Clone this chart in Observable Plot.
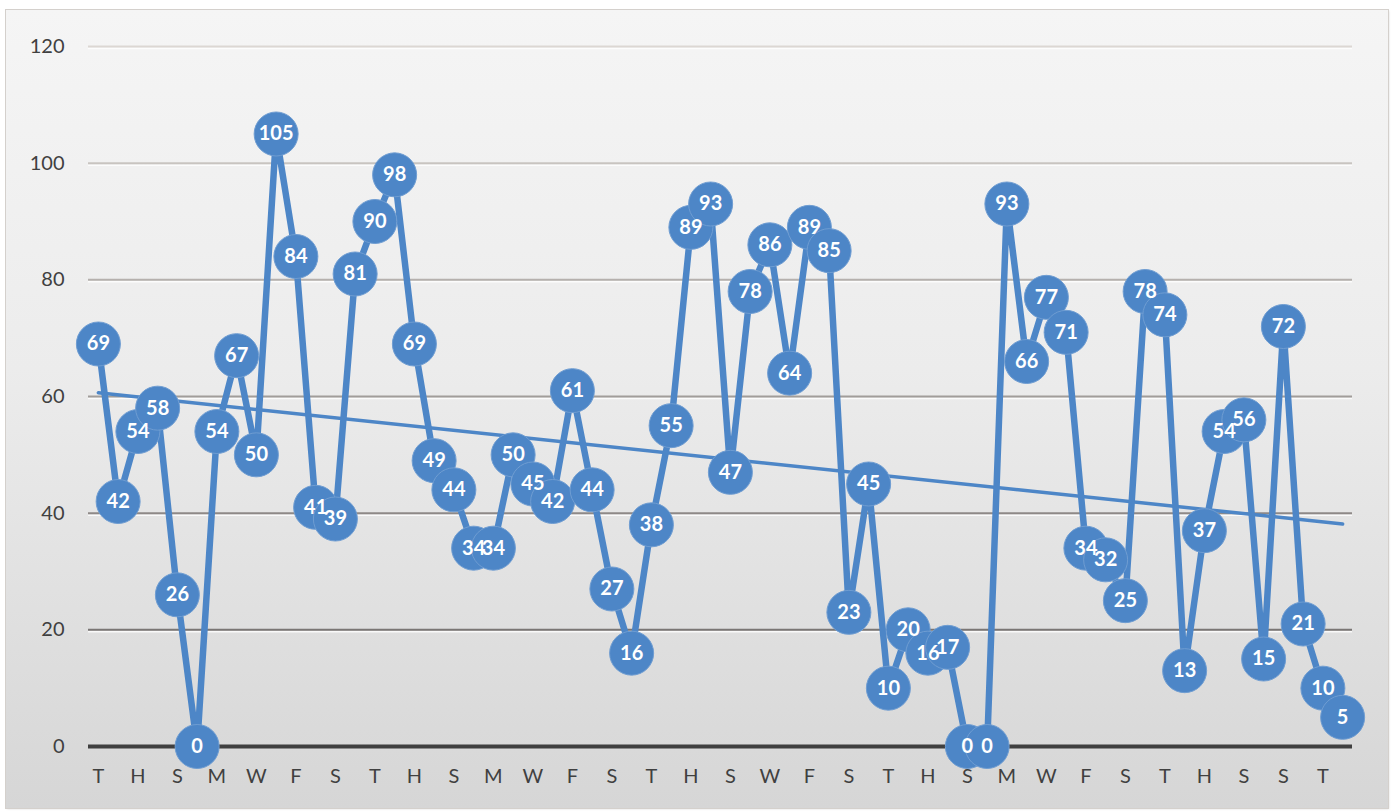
<!DOCTYPE html>
<html>
<head>
<meta charset="utf-8">
<script src="https://cdn.jsdelivr.net/npm/d3@7"></script>
<script src="https://cdn.jsdelivr.net/npm/@observablehq/plot@0.6"></script>
<style>
  html, body { margin: 0; padding: 0; background: #ffffff; }
  #frame {
    position: absolute; left: 6px; top: 10px; width: 1382px; height: 798px;
    background: linear-gradient(to bottom, #f5f5f5 0%, #ececec 45%, #d6d6d6 100%);
    outline: 1px solid #d4d0cc;
    box-shadow: 1px 1px 2px rgba(0,0,0,0.15);
  }
  #frame svg { display: block; }
</style>
</head>
<body>
<div id="frame"></div>
<script>
// Series values (one per day)
const values = [69, 42, 54, 58, 26, 0, 54, 67, 50, 105, 84, 41, 39, 81, 90, 98,
  69, 49, 44, 34, 34, 50, 45, 42, 61, 44, 27, 16, 38, 55, 89, 93,
  47, 78, 86, 64, 89, 85, 23, 45, 10, 20, 16, 17, 0, 0, 93, 66,
  77, 71, 34, 32, 25, 78, 74, 13, 37, 54, 56, 15, 72, 21, 10, 5];

// Category labels shown on the x axis (every second category)
const tickLabels = ["T","H","S","M","W","F","S","T","H","S","M","W","F","S","T","H",
  "S","W","F","S","T","H","S","M","W","F","S","T","H","S","S","T"];

const yTicks = [0, 20, 40, 60, 80, 100, 120];
const gridValues = [20, 40, 60, 80, 100, 120];

const blue = "#4d86c7";
const data = values.map((v, i) => ({i, v}));
const tickIdx = tickLabels.map((_, k) => k * 2);
const gridColor = d3.scaleLinear().domain([20, 120]).range(["#7a7674", "#dcd7d3"]);

const chart = Plot.plot({
  width: 1382,
  height: 798,
  marginLeft: 82,
  marginRight: 36,
  marginTop: 36,
  marginBottom: 62,
  style: {background: "transparent", fontFamily: "Lato, 'Open Sans', sans-serif", fontSize: "20px", color: "#404040"},
  color: {type: "identity"},
  x: {domain: [-0.5, values.length - 0.5]},
  y: {domain: [0, 120]},
  marks: [
    Plot.ruleY(gridValues, {stroke: "#ffffff", strokeOpacity: 0.8, strokeWidth: 1.5, dy: 2}),
    Plot.ruleY(gridValues, {stroke: d => gridColor(d), strokeWidth: 2}),
    Plot.ruleY([0], {stroke: "#3f3f3f", strokeWidth: 4}),
    Plot.axisY({ticks: yTicks, tickSize: 0, tickPadding: 24, label: null, fontSize: 20, fill: "#404040"}),
    Plot.axisX({ticks: tickIdx, tickFormat: i => tickLabels[i / 2], tickSize: 0, tickPadding: 22, label: null, fontSize: 20, fill: "#404040"}),
    Plot.linearRegressionY(data, {x: "i", y: "v", stroke: blue, strokeWidth: 3.5, ci: 0}),
    Plot.line(data, {x: "i", y: "v", stroke: blue, strokeWidth: 6.5, strokeLinejoin: "round"}),
    Plot.dot(data, {x: "i", y: "v", r: 22, fill: blue, stroke: "#6f9dd2", strokeWidth: 1}),
    Plot.text(data, {x: "i", y: "v", text: d => String(d.v), fill: "white", fontWeight: "bold", fontSize: 20, fontFamily: "Lato, 'Open Sans', sans-serif"})
  ]
});
document.getElementById("frame").appendChild(chart);
</script>
</body>
</html>
